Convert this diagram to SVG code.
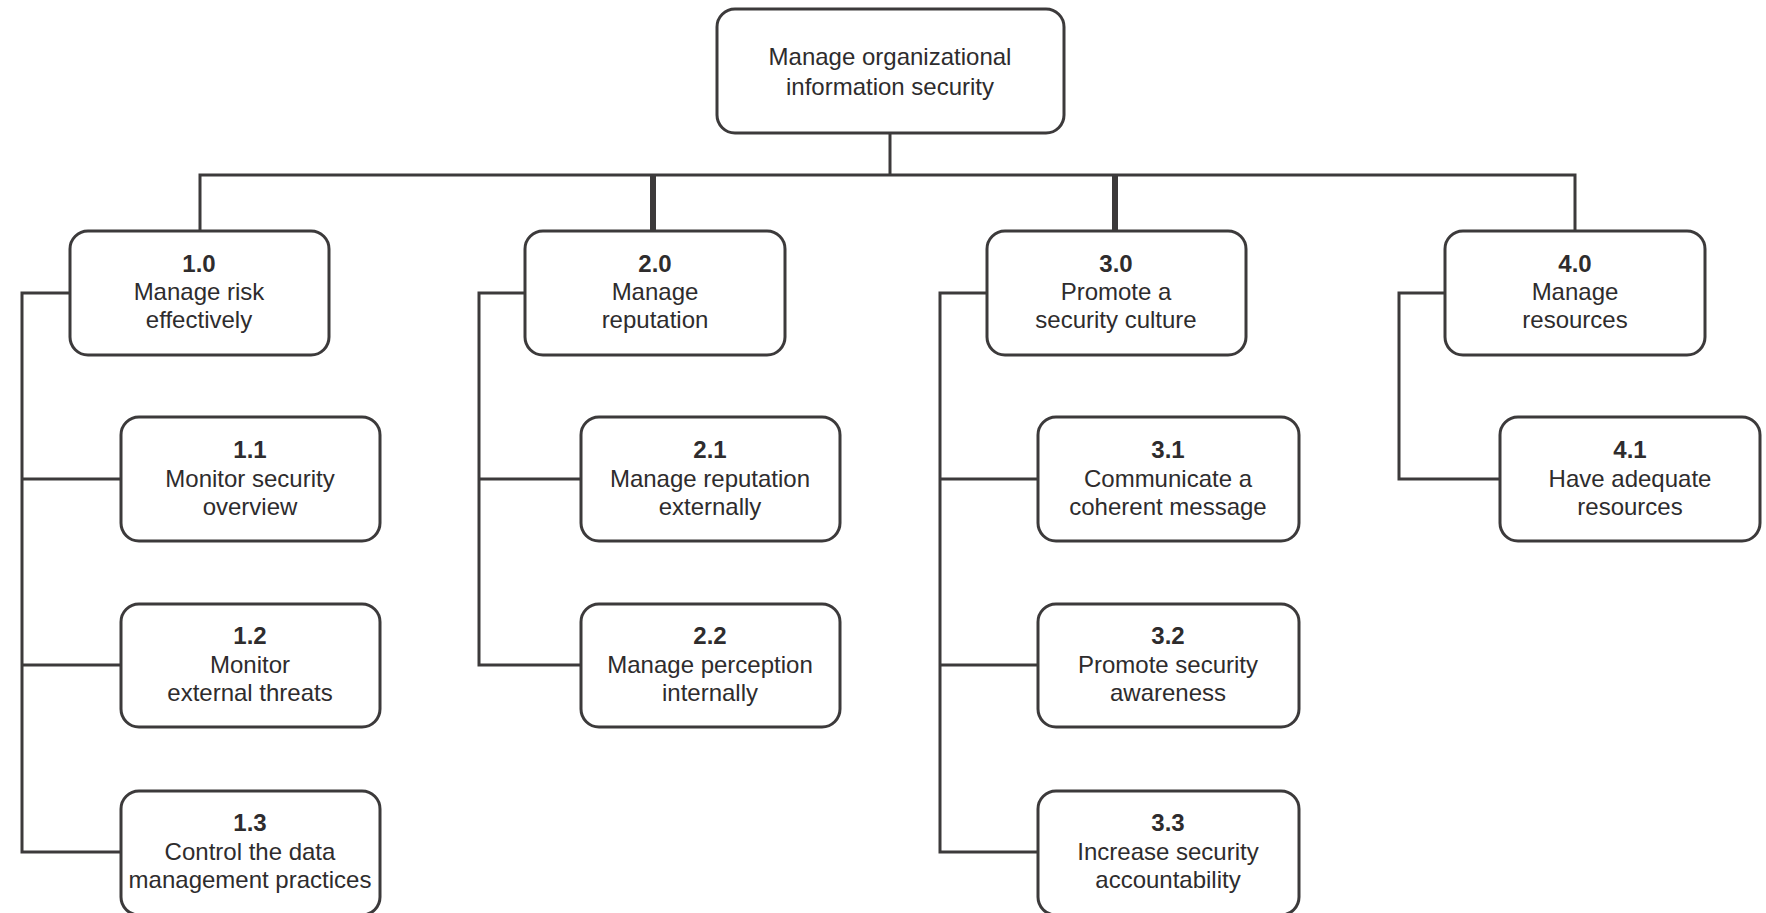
<svg xmlns="http://www.w3.org/2000/svg" width="1766" height="913" viewBox="0 0 1766 913">
<style>
.box{fill:#fff;stroke:#3c3a3b;stroke-width:3}
.ln{fill:none;stroke:#3c3a3b;stroke-width:3}
.thk{fill:none;stroke:#3c3a3b;stroke-width:6}
text{font-family:"Liberation Sans",Arial,sans-serif;font-size:24px;fill:#2e2c2d;text-anchor:middle}
.num{font-weight:bold}
</style>
<rect width="1766" height="913" fill="#fff"/>
<g id="connectors">
<path class="ln" d="M890,133 V175"/>
<path class="ln" d="M200,231 V175 H1575 V231"/>
<path class="thk" d="M653,175 V231"/>
<path class="thk" d="M1115,175 V231"/>
<path class="ln" d="M70,293 H22 V852 H121 M22,479 H121 M22,665 H121"/>
<path class="ln" d="M525,293 H479 V665 H581 M479,479 H581"/>
<path class="ln" d="M987,293 H940 V852 H1037 M940,479 H1037 M940,665 H1037"/>
<path class="ln" d="M1445,293 H1399 V479 H1500"/>
</g>
<g id="n0"><rect class="box" x="717" y="9" width="347" height="124" rx="18"/><text x="890" y="65">Manage organizational</text><text x="890" y="95">information security</text></g>
<g id="n1"><rect class="box" x="70" y="231" width="259" height="124" rx="18"/><text class="num" x="199" y="272">1.0</text><text x="199" y="300">Manage risk</text><text x="199" y="328">effectively</text></g>
<g id="n2"><rect class="box" x="525" y="231" width="260" height="124" rx="18"/><text class="num" x="655" y="272">2.0</text><text x="655" y="300">Manage</text><text x="655" y="328">reputation</text></g>
<g id="n3"><rect class="box" x="987" y="231" width="259" height="124" rx="18"/><text class="num" x="1116" y="272">3.0</text><text x="1116" y="300">Promote a</text><text x="1116" y="328">security culture</text></g>
<g id="n4"><rect class="box" x="1445" y="231" width="260" height="124" rx="18"/><text class="num" x="1575" y="272">4.0</text><text x="1575" y="300">Manage</text><text x="1575" y="328">resources</text></g>
<g id="n11"><rect class="box" x="121" y="417" width="259" height="124" rx="18"/><text class="num" x="250" y="458">1.1</text><text x="250" y="487">Monitor security</text><text x="250" y="515">overview</text></g>
<g id="n12"><rect class="box" x="121" y="604" width="259" height="123" rx="18"/><text class="num" x="250" y="644">1.2</text><text x="250" y="673">Monitor</text><text x="250" y="701">external threats</text></g>
<g id="n13"><rect class="box" x="121" y="791" width="259" height="124" rx="18"/><text class="num" x="250" y="831">1.3</text><text x="250" y="860">Control the data</text><text x="250" y="888">management practices</text></g>
<g id="n21"><rect class="box" x="581" y="417" width="259" height="124" rx="18"/><text class="num" x="710" y="458">2.1</text><text x="710" y="487">Manage reputation</text><text x="710" y="515">externally</text></g>
<g id="n22"><rect class="box" x="581" y="604" width="259" height="123" rx="18"/><text class="num" x="710" y="644">2.2</text><text x="710" y="673">Manage perception</text><text x="710" y="701">internally</text></g>
<g id="n31"><rect class="box" x="1038" y="417" width="261" height="124" rx="18"/><text class="num" x="1168" y="458">3.1</text><text x="1168" y="487">Communicate a</text><text x="1168" y="515">coherent message</text></g>
<g id="n32"><rect class="box" x="1038" y="604" width="261" height="123" rx="18"/><text class="num" x="1168" y="644">3.2</text><text x="1168" y="673">Promote security</text><text x="1168" y="701">awareness</text></g>
<g id="n33"><rect class="box" x="1038" y="791" width="261" height="124" rx="18"/><text class="num" x="1168" y="831">3.3</text><text x="1168" y="860">Increase security</text><text x="1168" y="888">accountability</text></g>
<g id="n41"><rect class="box" x="1500" y="417" width="260" height="124" rx="18"/><text class="num" x="1630" y="458">4.1</text><text x="1630" y="487">Have adequate</text><text x="1630" y="515">resources</text></g>
</svg>
